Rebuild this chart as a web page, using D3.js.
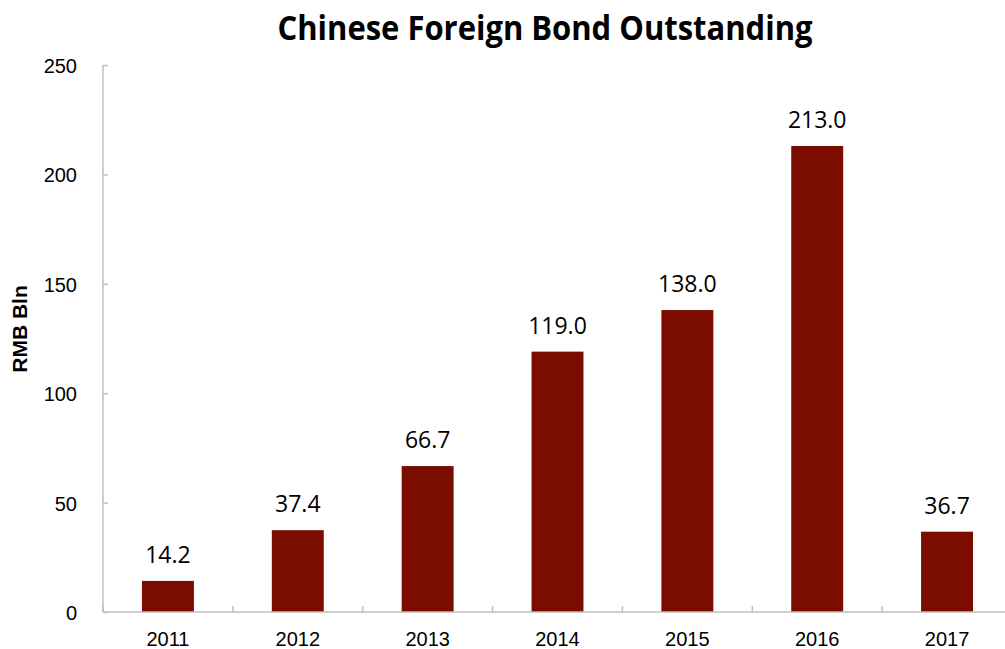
<!DOCTYPE html>
<html>
<head>
<meta charset="utf-8">
<script src="https://cdn.jsdelivr.net/npm/d3@7"></script>
<style>
  body { margin: 0; background: #fff; }
  svg { display: block; }
  text { font-family: "Liberation Sans", Arial, sans-serif; fill: #000; }
</style>
</head>
<body>
<svg id="chart" width="1005" height="649"></svg>
<script>
// chart data
const years = ["2011", "2012", "2013", "2014", "2015", "2016", "2017"];
const outstanding = [14.2, 37.4, 66.7, 119.0, 138.0, 213.0, 36.7];
const yTicks = [0, 50, 100, 150, 200, 250];

const svg = d3.select("#chart");
const plotLeft = 103, plotRight = 1012, plotTop = 65, plotBottom = 612;

const x = d3.scaleBand()
    .domain(years)
    .range([plotLeft, plotRight])
    .paddingInner(0.6)
    .paddingOuter(0.3);

// band edges for the category ticks
const step = (plotRight - plotLeft) / years.length;

const y = d3.scaleLinear()
    .domain([0, 250])
    .range([plotBottom, plotTop]);

// bars
svg.append("g")
    .selectAll("rect")
    .data(outstanding)
    .enter()
    .append("rect")
    .attr("x", (d, i) => x(years[i]))
    .attr("y", d => y(d))
    .attr("width", x.bandwidth())
    .attr("height", d => plotBottom - y(d))
    .style("fill", "#7a0c00");

// value labels
svg.append("g")
    .selectAll("text")
    .data(outstanding)
    .enter()
    .append("text")
    .attr("x", (d, i) => x(years[i]) + x.bandwidth() / 2)
    .attr("y", d => y(d) - 18)
    .attr("text-anchor", "middle")
    .style("font-family", "'Open Sans', sans-serif")
    .style("font-size", "23px")
    .text(d => d.toFixed(1));

// y axis
const yAxis = svg.append("g")
    .attr("transform", `translate(${plotLeft},0)`)
    .call(d3.axisRight(y).tickValues(yTicks).tickSize(5).tickFormat(""));
yAxis.select(".domain").remove();
yAxis.selectAll("line").attr("stroke", "#bfbfbf").attr("stroke-width", 1.5);
yAxis.append("line")
    .attr("x1", 0).attr("x2", 0)
    .attr("y1", plotTop).attr("y2", plotBottom)
    .attr("stroke", "#bfbfbf").attr("stroke-width", 1.5);

svg.append("g")
    .selectAll("text")
    .data(yTicks)
    .enter()
    .append("text")
    .attr("x", 77)
    .attr("y", d => y(d) + 8)
    .attr("text-anchor", "end")
    .style("font-size", "20px")
    .text(d => d);

// x axis
const xAxis = svg.append("g");
xAxis.append("line")
    .attr("x1", plotLeft).attr("x2", plotRight)
    .attr("y1", plotBottom).attr("y2", plotBottom)
    .attr("stroke", "#bfbfbf").attr("stroke-width", 1.5);
xAxis.selectAll("line.tick")
    .data(d3.range(years.length + 1))
    .enter()
    .append("line")
    .attr("class", "tick")
    .attr("x1", i => plotLeft + i * step).attr("x2", i => plotLeft + i * step)
    .attr("y1", plotBottom).attr("y2", plotBottom - 6)
    .attr("stroke", "#bfbfbf").attr("stroke-width", 1.5);
xAxis.selectAll("text")
    .data(years)
    .enter()
    .append("text")
    .attr("x", d => x(d) + x.bandwidth() / 2)
    .attr("y", plotBottom + 34)
    .attr("text-anchor", "middle")
    .style("font-size", "20px")
    .text(d => d);

// axis title
svg.append("text")
    .attr("transform", "translate(27,329) rotate(-90)")
    .attr("text-anchor", "middle")
    .style("font-size", "21px")
    .style("font-weight", "bold")
    .text("RMB Bln");

// chart title
svg.append("text")
    .attr("x", 545)
    .attr("y", 40)
    .attr("text-anchor", "middle")
    .attr("textLength", 535)
    .attr("lengthAdjust", "spacingAndGlyphs")
    .style("font-family", "'Open Sans', sans-serif")
    .style("font-size", "34px")
    .style("font-weight", "bold")
    .text("Chinese Foreign Bond Outstanding");
</script>
</body>
</html>
